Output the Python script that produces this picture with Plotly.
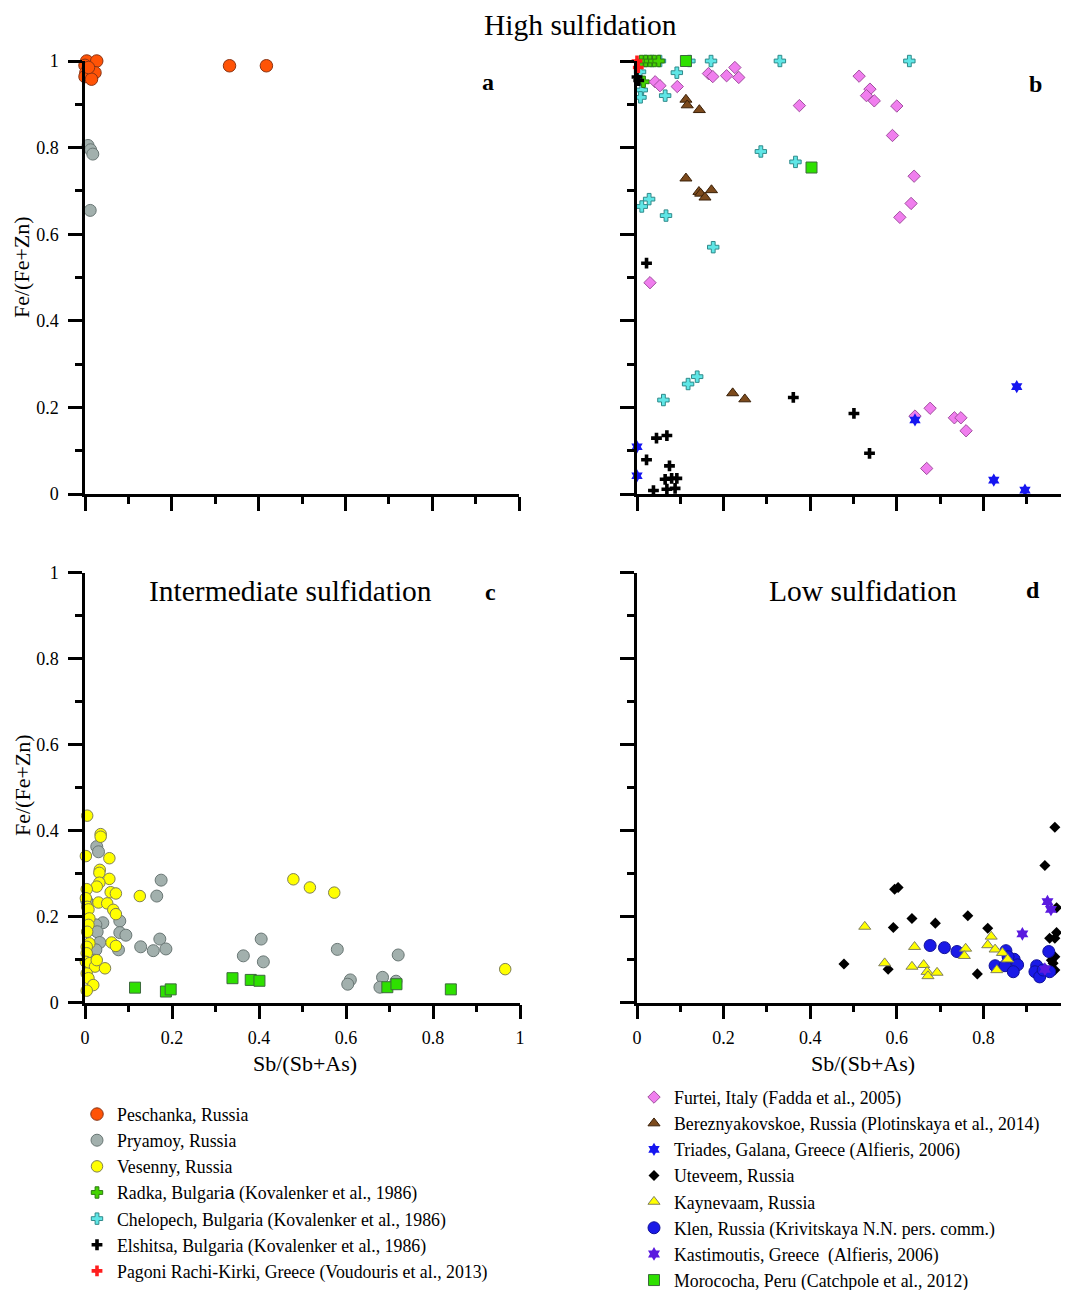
import plotly.graph_objects as go

# page body adds an 8px offset; the figure is sized so it fills the rest of the window
OFF = 8
W, H = 1070 - OFF, 1290 - OFF

# ---------------- data ----------------
# Panel a (High sulfidation)
peschanka_x = [0.004, 0.027, 0.0, 0.002, 0.023, 0.0, 0.015, 0.008, 0.333, 0.418]
peschanka_y = [1.0, 1.0, 0.99, 0.973, 0.973, 0.964, 0.958, 0.985, 0.989, 0.989]
pryamoy_a_x = [0.007, 0.013, 0.018, 0.012]
pryamoy_a_y = [0.805, 0.795, 0.785, 0.655]

# Panel b (High sulfidation)
chelopech_x = [0.053, 0.171, 0.330, 0.629, 0.121, 0.092, 0.007, 0.011, 0.008, 0.065, 0.286,
               0.366, 0.028, 0.011, 0.067, 0.176, 0.061, 0.118, 0.139, 0.02, 0.035]
chelopech_y = [1.0, 1.0, 1.0, 1.0, 1.0, 0.973, 0.975, 0.933, 0.916, 0.92, 0.791,
               0.767, 0.681, 0.664, 0.643, 0.570, 0.217, 0.254, 0.271, 1.0, 1.0]
radka_x = [0.01, 0.02, 0.03, 0.04, 0.05, 0.015]
radka_y = [1.0, 1.0, 1.0, 1.0, 1.0, 0.952]
pagoni_x = [0.0, 0.003]
pagoni_y = [1.0, 0.985]
elshitsa_x = [0.0, 0.004, 0.022, 0.045, 0.069, 0.022, 0.075, 0.038, 0.065, 0.092, 0.069,
              0.088, 0.08, 0.361, 0.501, 0.537]
elshitsa_y = [0.963, 0.955, 0.533, 0.129, 0.135, 0.079, 0.065, 0.008, 0.034, 0.036, 0.011,
              0.013, 0.036, 0.223, 0.186, 0.094]
triades_x = [0.0, 0.0, 0.642, 0.877, 0.824, 0.896]
triades_y = [0.109, 0.042, 0.171, 0.248, 0.032, 0.009]
berez_x = [0.113, 0.116, 0.144, 0.113, 0.143, 0.147, 0.157, 0.172, 0.221, 0.249]
berez_y = [0.911, 0.898, 0.887, 0.729, 0.698, 0.694, 0.685, 0.702, 0.233, 0.219]
furtei_x = [0.042, 0.053, 0.093, 0.165, 0.175, 0.207, 0.226, 0.235, 0.375, 0.513, 0.538,
            0.530, 0.548, 0.600, 0.590, 0.640, 0.633, 0.607, 0.030, 0.642, 0.677, 0.733,
            0.748, 0.760, 0.669]
furtei_y = [0.952, 0.943, 0.941, 0.971, 0.964, 0.966, 0.985, 0.962, 0.897, 0.965, 0.935,
            0.920, 0.908, 0.896, 0.828, 0.734, 0.671, 0.639, 0.488, 0.180, 0.198, 0.176,
            0.176, 0.146, 0.059]
morococha_b_x = [0.113, 0.403]
morococha_b_y = [1.0, 0.754]

# Panel c (Intermediate sulfidation)
vesenny_x = [0.005, 0.036, 0.036, 0.002, 0.056, 0.034, 0.033, 0.056, 0.033, 0.027, 0.004,
             0.059, 0.071, 0.126, 0.031, 0.051, 0.002, 0.005, 0.008, 0.065, 0.071, 0.01,
             0.008, 0.005, 0.01, 0.004, 0.061, 0.071, 0.004, 0.002, 0.011, 0.023, 0.046,
             0.004, 0.008, 0.019, 0.004, 0.027, 0.479, 0.517, 0.573, 0.966]
vesenny_y = [0.435, 0.392, 0.386, 0.341, 0.336, 0.309, 0.302, 0.288, 0.279, 0.270, 0.264,
             0.257, 0.254, 0.248, 0.233, 0.231, 0.243, 0.223, 0.217, 0.216, 0.206, 0.196,
             0.181, 0.165, 0.138, 0.130, 0.140, 0.132, 0.115, 0.095, 0.092, 0.084, 0.080,
             0.068, 0.057, 0.041, 0.028, 0.099, 0.287, 0.268, 0.256, 0.078]
pryamoy_c_x = [0.027, 0.031, 0.175, 0.165, 0.004, 0.08, 0.041, 0.025, 0.028, 0.08, 0.094,
               0.034, 0.025, 0.021, 0.077, 0.128, 0.157, 0.172, 0.186, 0.364, 0.405, 0.410,
               0.58, 0.61, 0.604, 0.684, 0.678, 0.715, 0.72]
pryamoy_c_y = [0.363, 0.351, 0.285, 0.248, 0.237, 0.19, 0.186, 0.181, 0.165, 0.163, 0.157,
               0.140, 0.123, 0.099, 0.123, 0.130, 0.121, 0.148, 0.125, 0.109, 0.148, 0.095,
               0.124, 0.053, 0.043, 0.059, 0.036, 0.050, 0.111]
morococha_c_x = [0.115, 0.186, 0.197, 0.339, 0.381, 0.401, 0.695, 0.716, 0.841]
morococha_c_y = [0.035, 0.026, 0.031, 0.057, 0.053, 0.051, 0.036, 0.043, 0.031]

# Panel d (Low sulfidation)
uteveem_x = [0.965, 0.942, 0.595, 0.603, 0.635, 0.689, 0.764, 0.592, 0.810, 0.969, 0.969,
             0.953, 0.965, 0.965, 0.961, 0.965, 0.478, 0.58, 0.786, 0.957]
uteveem_y = [0.408, 0.319, 0.264, 0.268, 0.196, 0.185, 0.202, 0.175, 0.173, 0.221, 0.163,
             0.150, 0.150, 0.107, 0.092, 0.076, 0.090, 0.078, 0.067, 0.099]
kaynevaam_x = [0.526, 0.572, 0.641, 0.635, 0.662, 0.670, 0.672, 0.693, 0.759, 0.756, 0.818,
               0.810, 0.827, 0.844, 0.856, 0.831]
kaynevaam_y = [0.177, 0.092, 0.130, 0.084, 0.088, 0.072, 0.062, 0.070, 0.126, 0.109, 0.154,
               0.134, 0.124, 0.116, 0.101, 0.076]
klen_x = [0.677, 0.710, 0.739, 0.852, 0.871, 0.827, 0.850, 0.879, 0.869, 0.923, 0.919,
          0.930, 0.938, 0.951, 0.953, 0.857]
klen_y = [0.133, 0.128, 0.119, 0.121, 0.101, 0.086, 0.086, 0.088, 0.072, 0.086, 0.072,
          0.060, 0.076, 0.119, 0.072, 0.107]
kastim_x = [0.948, 0.956, 0.890, 0.942]
kastim_y = [0.235, 0.217, 0.160, 0.078]

# ---------------- figure ----------------
SERIF = "Liberation Serif"
fig = go.Figure()


def add(name, x, y, ax, symbol, size, color, lcolor, lw, legend, rank, show):
    fig.add_trace(go.Scatter(
        x=x, y=y, mode="markers", name=name,
        xaxis="x" + ax, yaxis="y" + ax,
        legendgroup=name, showlegend=show, legend=legend, legendrank=rank,
        cliponaxis=False,
        marker=dict(symbol=symbol, size=size, color=color,
                    line=dict(color=lcolor, width=lw)),
    ))


N_PES = "Peschanka, Russia"
N_PRY = "Pryamoy, Russia"
N_VES = "Vesenny, Russia"
N_RAD = "Radka, Bulgari<span style='font-family:Liberation Sans'>a</span> (Kovalenker et al., 1986)"
N_CHE = "Chelopech, Bulgaria (Kovalenker et al., 1986)"
N_ELS = "Elshitsa, Bulgaria (Kovalenker et al., 1986)"
N_PAG = "Pagoni Rachi-Kirki, Greece (Voudouris et al., 2013)"
N_FUR = "Furtei, Italy (Fadda et al., 2005)"
N_BER = "Bereznyakovskoe, Russia (Plotinskaya et al., 2014)"
N_TRI = "Triades, Galana, Greece (Alfieris, 2006)"
N_UTE = "Uteveem, Russia"
N_KAY = "Kaynevaam, Russia"
N_KLE = "Klen, Russia (Krivitskaya N.N. pers. comm.)"
N_KAS = "Kastimoutis, Greece  (Alfieris, 2006)"
N_MOR = "Morococha, Peru (Catchpole et al., 2012)"

C_PES, L_PES = "#FF5306", "#8A3414"
C_PRY, L_PRY = "#A2B0AD", "#6A7775"
C_VES, L_VES = "#FFFF00", "#7F7F55"
C_RAD, L_RAD = "#44D400", "#2C7A10"
C_CHE, L_CHE = "#5FE6E6", "#2F8A8A"
C_PAG = "#FF1E1E"
C_FUR, L_FUR = "#F07EEE", "#A0509E"
C_BER, L_BER = "#7C4A1C", "#3A2008"
C_TRI = "#1616F0"
C_KAY, L_KAY = "#FFFF00", "#807F60"
C_KLE, L_KLE = "#1A1AE6", "#10109A"
C_KAS = "#5B1ADF"
C_MOR, L_MOR = "#2EE000", "#3C6A3C"

# panel a
add(N_PRY, pryamoy_a_x, pryamoy_a_y, "", "circle", 12, C_PRY, L_PRY, 1, "legend", 2, True)
add(N_PES, peschanka_x, peschanka_y, "", "circle", 12.5, C_PES, L_PES, 1, "legend", 1, True)
# panel b
add(N_CHE, chelopech_x, chelopech_y, "2", "cross", 9.5, C_CHE, L_CHE, 1, "legend", 5, True)
add(N_RAD, radka_x, radka_y, "2", "cross", 9.5, C_RAD, L_RAD, 1, "legend", 4, True)
add(N_FUR, furtei_x, furtei_y, "2", "diamond", 9.5, C_FUR, L_FUR, 1, "legend2", 1, True)
add(N_BER, berez_x, berez_y, "2", "triangle-up", 10.5, C_BER, L_BER, 1, "legend2", 2, True)
add(N_ELS, elshitsa_x, elshitsa_y, "2", "cross", 9, "black", "black", 0, "legend", 6, True)
add(N_PAG, pagoni_x, pagoni_y, "2", "cross", 9, C_PAG, C_PAG, 0, "legend", 7, True)
add(N_TRI, triades_x, triades_y, "2", "hexagram", 10, C_TRI, C_TRI, 0, "legend2", 3, True)
add(N_MOR, morococha_b_x, morococha_b_y, "2", "square", 11, C_MOR, L_MOR, 1, "legend2", 8, True)
# panel c
add(N_PRY, pryamoy_c_x, pryamoy_c_y, "3", "circle", 12, C_PRY, L_PRY, 1, "legend", 2, False)
add(N_VES, vesenny_x, vesenny_y, "3", "circle", 11.5, C_VES, L_VES, 1, "legend", 3, True)
add(N_MOR, morococha_c_x, morococha_c_y, "3", "square", 11, C_MOR, L_MOR, 1, "legend2", 8, False)
# panel d
add(N_UTE, uteveem_x, uteveem_y, "4", "diamond", 8.5, "black", "black", 0, "legend2", 4, True)
add(N_KLE, klen_x, klen_y, "4", "circle", 12, C_KLE, L_KLE, 1, "legend2", 6, True)
add(N_KAY, kaynevaam_x, kaynevaam_y, "4", "triangle-up", 10.5, C_KAY, L_KAY, 1, "legend2", 5, True)
add(N_KAS, kastim_x, kastim_y, "4", "hexagram", 10.5, C_KAS, C_KAS, 0, "legend2", 7, True)


def px_x(p):
    return (p - OFF) / W


def px_y(p):
    return 1 - (p - OFF) / H


common = dict(
    range=[0, 1], showline=True, linecolor="black", linewidth=2.5,
    ticks="outside", ticklen=14, tickwidth=2.5, tickcolor="black",
    tick0=0, dtick=0.2, showgrid=False, zeroline=False,
    minor=dict(tick0=0, dtick=0.1, ticklen=7, tickwidth=2.5, tickcolor="black",
               ticks="outside", showgrid=False),
    tickfont=dict(family=SERIF, size=18, color="black"),
    ticklabelstandoff=6,
)
xcommon = dict(common, ticklabelstandoff=3)

top = [px_y(494), px_y(61)]
bot = [px_y(1002.7), px_y(572.7)]
left_a = [px_x(85), px_x(519)]
left_c = [px_x(85), px_x(520)]
right = [px_x(637), 1.0]

LEG_FONT = dict(family=SERIF, size=17.8, color="black")

fig.update_layout(
    width=W, height=H,
    margin=dict(l=0, r=0, t=0, b=0, autoexpand=False),
    paper_bgcolor="white", plot_bgcolor="white",
    xaxis=dict(xcommon, domain=left_a, anchor="y", showticklabels=False),
    yaxis=dict(common, domain=top, anchor="x", showticklabels=True),
    xaxis2=dict(xcommon, domain=right, anchor="y2", showticklabels=False),
    yaxis2=dict(common, domain=top, anchor="x2", showticklabels=False),
    xaxis3=dict(xcommon, domain=left_c, anchor="y3", showticklabels=True),
    yaxis3=dict(common, domain=bot, anchor="x3", showticklabels=True),
    xaxis4=dict(xcommon, domain=right, anchor="y4", showticklabels=True),
    yaxis4=dict(common, domain=bot, anchor="x4", showticklabels=False),
    legend=dict(x=px_x(77), y=px_y(1096), xanchor="left", yanchor="top",
                font=LEG_FONT, tracegroupgap=0, bgcolor="rgba(0,0,0,0)",
                traceorder="normal"),
    legend2=dict(x=px_x(634), y=px_y(1079), xanchor="left", yanchor="top",
                 font=LEG_FONT, tracegroupgap=0, bgcolor="rgba(0,0,0,0)",
                 traceorder="normal"),
    showlegend=True,
)


def ann(text, x, y, size, bold=False, angle=0):
    fig.add_annotation(
        text=("<b>%s</b>" % text) if bold else text,
        x=px_x(x), y=px_y(y), xref="paper", yref="paper",
        xanchor="center", yanchor="middle", showarrow=False, textangle=angle,
        font=dict(family=SERIF, size=size, color="black"),
    )


ann("High sulfidation", 580, 25, 29.5)
ann("Intermediate sulfidation", 290, 591, 29.5)
ann("Low sulfidation", 863, 591, 29.5)
ann("a", 488, 82, 24, bold=True)
ann("b", 1035, 84, 24, bold=True)
ann("c", 490, 592, 24, bold=True)
ann("d", 1033, 590, 24, bold=True)
ann("Fe/(Fe+Zn)", 22, 267, 22, angle=-90)
ann("Fe/(Fe+Zn)", 22, 785, 22, angle=-90)
ann("Sb/(Sb+As)", 305, 1063, 22)
ann("Sb/(Sb+As)", 863, 1063, 22)

fig.write_html("out.html")
